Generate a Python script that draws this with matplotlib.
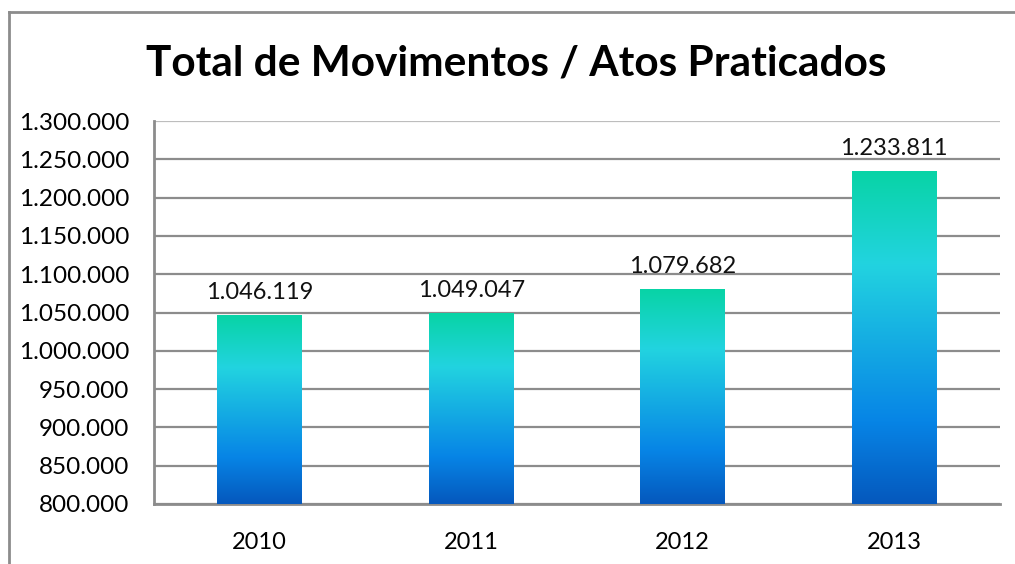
import numpy as np
import matplotlib.pyplot as plt
from matplotlib.colors import LinearSegmentedColormap

anos = ["2010", "2011", "2012", "2013"]
totais = [1046119, 1049047, 1079682, 1233811]
rotulos = ["1.046.119", "1.049.047", "1.079.682", "1.233.811"]
yticks = list(range(800000, 1300001, 50000))

plt.rcParams['font.family'] = ['Lato', 'DejaVu Sans']

def fmt(v):
    return f"{v:,}".replace(",", ".")

grad = LinearSegmentedColormap.from_list(
    "g", [(0.0, "#0558bd"), (0.25, "#0785e6"), (0.72, "#22d3e0"), (1.0, "#08d4a6")])

fig = plt.figure(figsize=(10.15, 5.64), dpi=100)

# moldura do grafico (cortada a direita e embaixo)
bx, by = 8.5 / 1015, 1 - 11.5 / 564
frame = fig.add_axes([bx, -0.05, 1.0, by + 0.05])
frame.set_xticks([])
frame.set_yticks([])
frame.patch.set_visible(False)
for s in ["right", "bottom"]:
    frame.spines[s].set_visible(False)
for s in ["left", "top"]:
    frame.spines[s].set_color("#8c8c8c")
    frame.spines[s].set_linewidth(2)

ax = fig.add_axes([0.1517, 0.1064, 0.8335, 0.679])

x = np.arange(len(anos))
bars = ax.bar(x, totais, width=0.4, color="none", zorder=3)
ax.set_xlim(-0.5, len(anos) - 0.5)
ax.set_ylim(800000, 1300000)

g = np.linspace(0, 1, 256).reshape(-1, 1)
for b in bars:
    x0, y0 = b.get_x(), 800000
    ax.imshow(g, cmap=grad, origin="lower", aspect="auto", zorder=3,
              extent=[x0, x0 + b.get_width(), y0, b.get_height()])

for xi, v, lab in zip(x, totais, rotulos):
    ax.annotate(lab, (xi, v), xytext=(0, 9), textcoords="offset points",
                ha="center", va="bottom", fontsize=17, color="#111111")

ax.set_xticks(x)
ax.set_xticklabels(anos, fontsize=17)
ax.set_yticks(yticks)
ax.set_yticklabels([fmt(t) for t in yticks], fontsize=17.5)
ax.tick_params(length=0)
ax.tick_params(axis="y", pad=18)
ax.tick_params(axis="x", pad=20)

ax.yaxis.grid(True, color="#8c8c8c", linewidth=1.6, zorder=0)
ax.set_axisbelow(True)
ax.get_ygridlines()[-1].set_color("#bdbdbd")
for s in ["top", "right"]:
    ax.spines[s].set_visible(False)
for s in ["left", "bottom"]:
    ax.spines[s].set_color("#8c8c8c")
    ax.spines[s].set_linewidth(2)

fig.text(0.5085, 0.888, "Total de Movimentos / Atos Praticados",
         ha="center", va="center", fontsize=30.5, fontweight="bold")

fig.savefig("out.png", dpi=100)
